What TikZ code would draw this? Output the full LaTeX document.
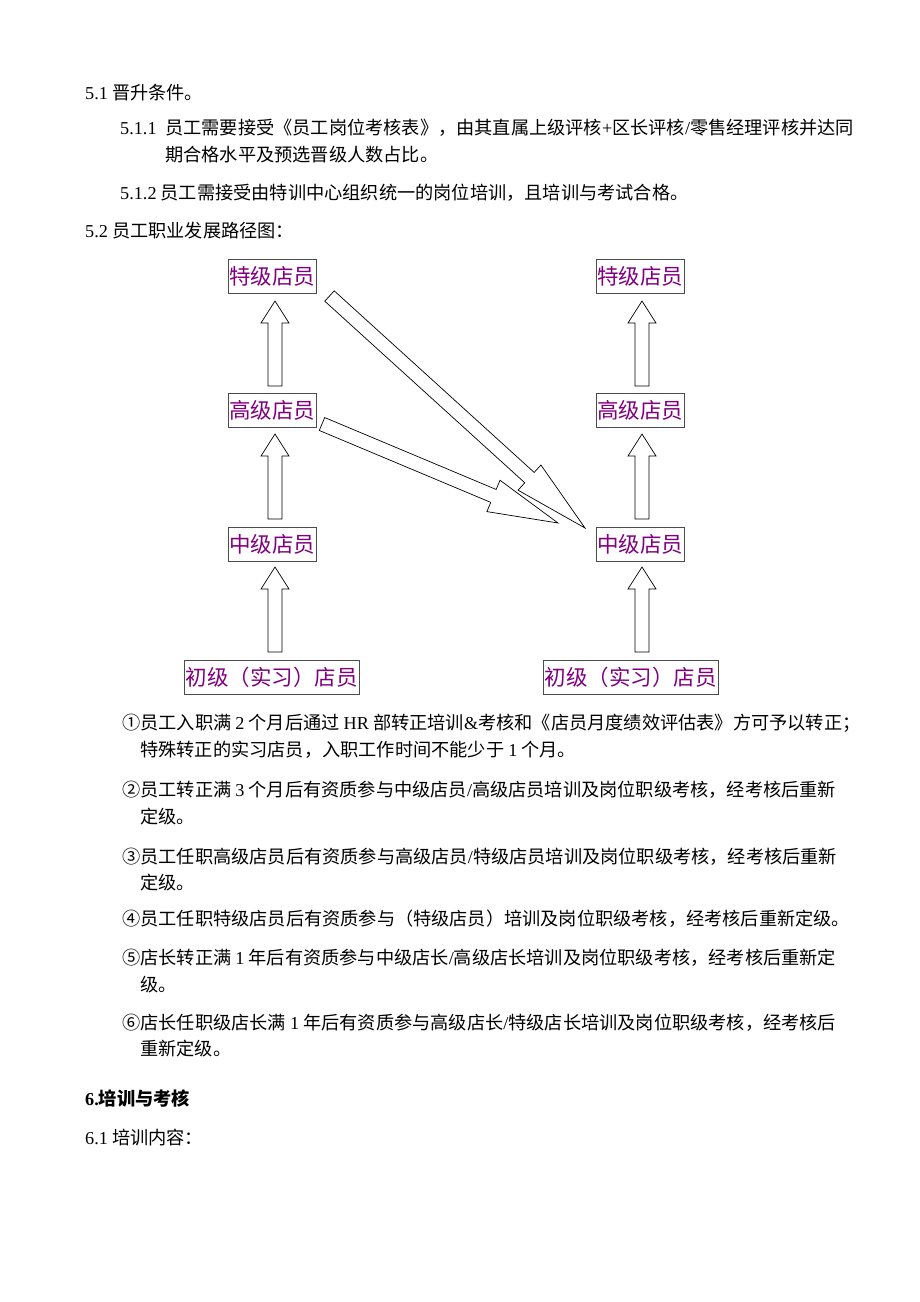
\documentclass[tikz,border=0pt]{standalone}
\usepackage{fontspec}
\setmainfont{Noto Sans CJK SC}
\newfontfamily\lat{Liberation Serif}
\usetikzlibrary{calc}
\definecolor{pur}{RGB}{128,0,128}
\tikzset{
 txt/.style={anchor=west,inner sep=0pt,font=\fontsize{18.2}{20}\selectfont},
 box/.style={draw=black!70,inner sep=0pt,minimum height=34pt,text=pur,font=\fontsize{21.5}{23}\selectfont},
 blk/.style={draw=black,line width=0.7pt,fill=white}
}
\newcommand\blockarrow[5]{%
 \coordinate (ba1) at (#1); \coordinate (ba2) at (#2);
 \coordinate (bah) at ($(ba2)!#5pt!(ba1)$);
 \draw[blk] ($(ba1)!#3pt!90:(ba2)$) -- ($(bah)!#3pt!-90:(ba1)$) -- ($(bah)!#4pt!-90:(ba1)$) -- (ba2)
   -- ($(bah)!#4pt!90:(ba1)$) -- ($(bah)!#3pt!90:(ba1)$) -- ($(ba1)!#3pt!-90:(ba2)$) -- cycle;}
\begin{document}
\begin{tikzpicture}[x=1pt,y=-1pt]
\useasboundingbox (0,0) rectangle (920,1302);
\fill[white] (0,0) rectangle (920,1302);
\node[txt] (t1) at (85,93) {{\lat 5.1} 晋升条件。};
\node[txt] (t2) at (120,128) {{\lat 5.1.1\ }\ 员工需要接受《员工岗位考核表》，由其直属上级评核{\lat +}区长评核{\lat /}零售经理评核并达同};
\node[txt] (t3) at (165,155) {期合格水平及预选晋级人数占比。};
\node[txt] (t4) at (120,193) {{\lat 5.1.2} 员工需接受由特训中心组织统一的岗位培训，且培训与考试合格。};
\node[txt] (t5) at (85,231) {{\lat 5.2} 员工职业发展路径图：};

\node[box,minimum width=88pt] (l4) at (272,276) {特级店员};
\node[box,minimum width=88pt] (l3) at (272,410) {高级店员};
\node[box,minimum width=88pt] (l2) at (272,544) {中级店员};
\node[box,minimum width=175pt] (l1) at (271.5,677) {初级（实习）店员};
\node[box,minimum width=88pt] (r4) at (640,276) {特级店员};
\node[box,minimum width=88pt] (r3) at (640,410) {高级店员};
\node[box,minimum width=88pt] (r2) at (640,544) {中级店员};
\node[box,minimum width=175pt] (r1) at (630.5,677) {初级（实习）店员};

\foreach \x in {275,642}{
 \foreach \a/\b in {386/301,519/434,652/567}{
  \blockarrow{\x,\a}{\x,\b}{7}{14}{22}
 }}
\blockarrow{329.5,296}{585,528}{7}{17}{75}
\blockarrow{322,424}{558,523}{7}{17}{70}

\node[txt] (n1) at (122,723) {①员工入职满 {\lat 2} 个月后通过 {\lat HR} 部转正培训{\lat \&}考核和《店员月度绩效评估表》方可予以转正；};
\node[txt] (n1b) at (140,750) {特殊转正的实习店员，入职工作时间不能少于 {\lat 1} 个月。};
\node[txt] (n2) at (122,790) {②员工转正满 {\lat 3} 个月后有资质参与中级店员{\lat /}高级店员培训及岗位职级考核，经考核后重新};
\node[txt] (n2b) at (140,817) {定级。};
\node[txt] (n3) at (122,857) {③员工任职高级店员后有资质参与高级店员{\lat /}特级店员培训及岗位职级考核，经考核后重新};
\node[txt] (n3b) at (140,883) {定级。};
\node[txt] (n4) at (122,919) {④员工任职特级店员后有资质参与（特级店员）培训及岗位职级考核，经考核后重新定级。};
\node[txt] (n5) at (122,958) {⑤店长转正满 {\lat 1} 年后有资质参与中级店长{\lat /}高级店长培训及岗位职级考核，经考核后重新定};
\node[txt] (n5b) at (140,985) {级。};
\node[txt] (n6) at (122,1023) {⑥店长任职级店长满 {\lat 1} 年后有资质参与高级店长{\lat /}特级店长培训及岗位职级考核，经考核后};
\node[txt] (n6b) at (140,1049) {重新定级。};
\node[txt,font=\fontsize{18.2}{20}\selectfont\bfseries] (s6) at (85,1098) {{\lat\bfseries 6.}培训与考核};
\node[txt] (s61) at (85,1138) {{\lat 6.1} 培训内容：};
\end{tikzpicture}
\end{document}
